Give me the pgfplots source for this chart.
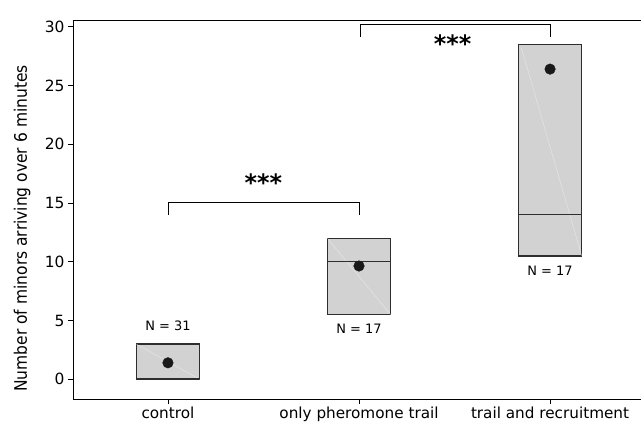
\documentclass[border=0pt]{standalone}
\usepackage{fontspec}
\setmainfont{DejaVu Sans}
\newfontfamily\condfont{DejaVu Sans Condensed}
\usepackage{pgfplots}
\pgfplotsset{compat=1.18}
\definecolor{boxfill}{HTML}{D2D2D2}
\definecolor{boxedge}{HTML}{2E2E2E}
\begin{document}
\begin{tikzpicture}
\begin{axis}[
  name=ax,
  scale only axis,
  width=568bp, height=379bp,
  xmin=-0.497, xmax=2.476,
  ymin=-1.68, ymax=30.58,
  axis x line=box, axis y line=left,
  axis line style={black, line width=0.9bp, -},
  xtick={0,1,2},
  xticklabels={control, only pheromone trail, trail and recruitment},
  xtick pos=bottom,
  ytick={0,5,10,15,20,25,30},
  tick align=outside,
  major tick length=5bp,
  tick style={black, line width=0.8bp},
  /pgf/number format/assume math mode=true,
  ticklabel style={font=\fontsize{15.5}{18}\selectfont},
  xticklabel style={font=\fontsize{15.3}{18}\selectfont, yshift=1bp},
  ylabel={Number of minors arriving over 6 minutes},
  every axis y label/.style={at={(axis description cs:-0.0895,0.45)}, rotate=90, anchor=center, font=\condfont\fontsize{17.3}{20}\selectfont},
  clip=false,
]
% boxes: control
\addplot[fill=boxfill, draw=boxedge, line width=1.4bp] coordinates {(-0.166,0) (0.166,0) (0.166,3.0) (-0.166,3.0)} -- cycle;
\addplot[white, opacity=0.5, line width=0.4bp] coordinates {(-0.166,3.0) (0.166,0)};
\addplot[boxedge, line width=1.5bp] coordinates {(-0.166,0.05) (0.166,0.05)};
% pheromone
\addplot[fill=boxfill, draw=boxedge, line width=1.4bp] coordinates {(0.834,5.5) (1.166,5.5) (1.166,12.0) (0.834,12.0)} -- cycle;
\addplot[white, opacity=0.5, line width=0.4bp] coordinates {(0.834,12.0) (1.166,5.5)};
\addplot[boxedge, line width=1.4bp] coordinates {(0.834,10.0) (1.166,10.0)};
% trail and recruitment
\addplot[fill=boxfill, draw=boxedge, line width=1.4bp] coordinates {(1.834,10.5) (2.166,10.5) (2.166,28.5) (1.834,28.5)} -- cycle;
\addplot[white, opacity=0.5, line width=0.4bp] coordinates {(1.85,28.2) (2.166,10.5)};
\addplot[boxedge, line width=1.4bp] coordinates {(1.834,14.0) (2.166,14.0)};
% means
\addplot[only marks, mark=*, mark size=5.3bp, mark options={fill=black!90, draw=black!90}] coordinates {(0,1.4) (1,9.64) (2,26.4)};
% brackets
\addplot[black, line width=0.9bp] coordinates {(0,14.0) (0,15.03) (1,15.03) (1,14.0)};
\addplot[black, line width=0.9bp] coordinates {(1.01,29.1) (1.01,30.17) (2.0,30.17) (2.0,29.1)};
% labels
\node[font=\fontsize{13}{15}\selectfont] at (axis cs:0,4.53) {N = 31};
\node[font=\fontsize{13}{15}\selectfont] at (axis cs:1,4.28) {N = 17};
\node[font=\fontsize{13}{15}\selectfont] at (axis cs:2,9.2) {N = 17};
\node[font=\fontsize{24}{26}\selectfont\bfseries] at (axis cs:0.5,16.7) {***};
\node[font=\fontsize{24}{26}\selectfont\bfseries] at (axis cs:1.49,28.6) {***};
\end{axis}
\pgfresetboundingbox
\path ([shift={(-73bp,-28bp)}]ax.south west) rectangle ([shift={(0bp,20bp)}]ax.north east);
\end{tikzpicture}
\end{document}
